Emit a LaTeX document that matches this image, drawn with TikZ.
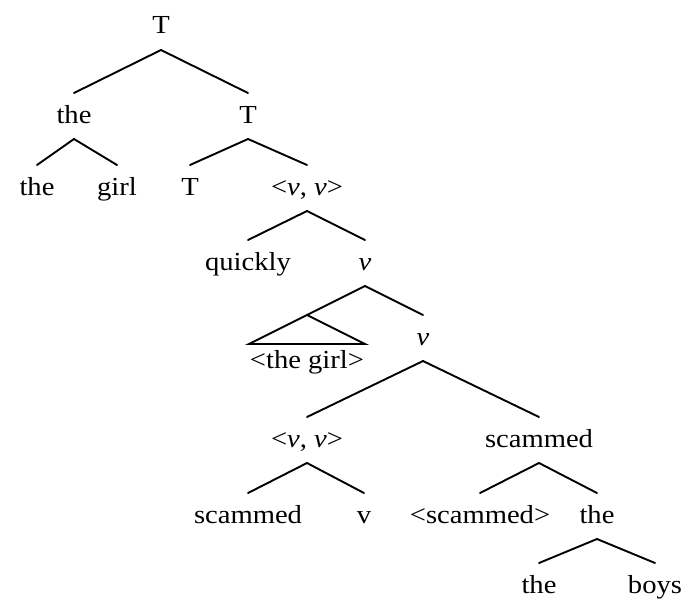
\documentclass[tikz,border=0pt]{standalone}
\usepackage{fontspec}
\setmainfont{Liberation Serif}[FakeStretch=1.1]
\begin{document}
\begin{tikzpicture}[x=0.5pt,y=-0.5pt,
  lab/.style={anchor=base,inner sep=0pt,font=\fontsize{13}{15}\selectfont},
  branch/.style={line width=0.95pt,line cap=round}]
\useasboundingbox (0,0) rectangle (683,599);
% tree labels (positions are baselines)
\node[lab] (t0) at (161,34) {T};
\node[lab] (the1) at (74,123) {the};
\node[lab] (t1) at (248,123) {T};
\node[lab] (the2) at (37,195) {the};
\node[lab] (girl) at (117,195) {girl};
\node[lab] (t2) at (190,195) {T};
\node[lab] (vv1) at (307,195) {<\textit{v}, \textit{v}>};
\node[lab] (quickly) at (248,270) {quickly};
\node[lab] (v1) at (365,270) {\textit{v}};
\node[lab] (tg) at (307,368) {<the girl>};
\node[lab] (v2) at (423,345) {\textit{v}};
\node[lab] (vv2) at (307,447) {<\textit{v}, \textit{v}>};
\node[lab] (sc1) at (539,447) {scammed};
\node[lab] (sc2) at (248,523) {scammed};
\node[lab] (vsm) at (364,523) {v};
\node[lab] (sc3) at (480,523) {<scammed>};
\node[lab] (the3) at (597,523) {the};
\node[lab] (the4) at (539,593) {the};
\node[lab] (boys) at (655,593) {boys};
% branches
\newcommand{\br}[2]{\draw[branch] ([yshift=-8pt]#1.base) -- ([yshift=15pt]#2.base);}
\br{t0}{the1}\br{t0}{t1}
\br{the1}{the2}\br{the1}{girl}
\br{t1}{t2}\br{t1}{vv1}
\br{vv1}{quickly}\br{vv1}{v1}
\br{v1}{v2}
\br{v2}{vv2}\br{v2}{sc1}
\br{vv2}{sc2}\br{vv2}{vsm}
\br{sc1}{sc3}\br{sc1}{the3}
\br{the3}{the4}\br{the3}{boys}
% roofed constituent
\draw[branch] ([yshift=-8pt]v1.base) -- ([yshift=26.5pt]tg.base);
\draw[branch,line join=miter] ([yshift=26.5pt]tg.base) -- ([xshift=-29pt,yshift=12pt]tg.base)
  -- ([xshift=29pt,yshift=12pt]tg.base) -- cycle;
\end{tikzpicture}
\end{document}
